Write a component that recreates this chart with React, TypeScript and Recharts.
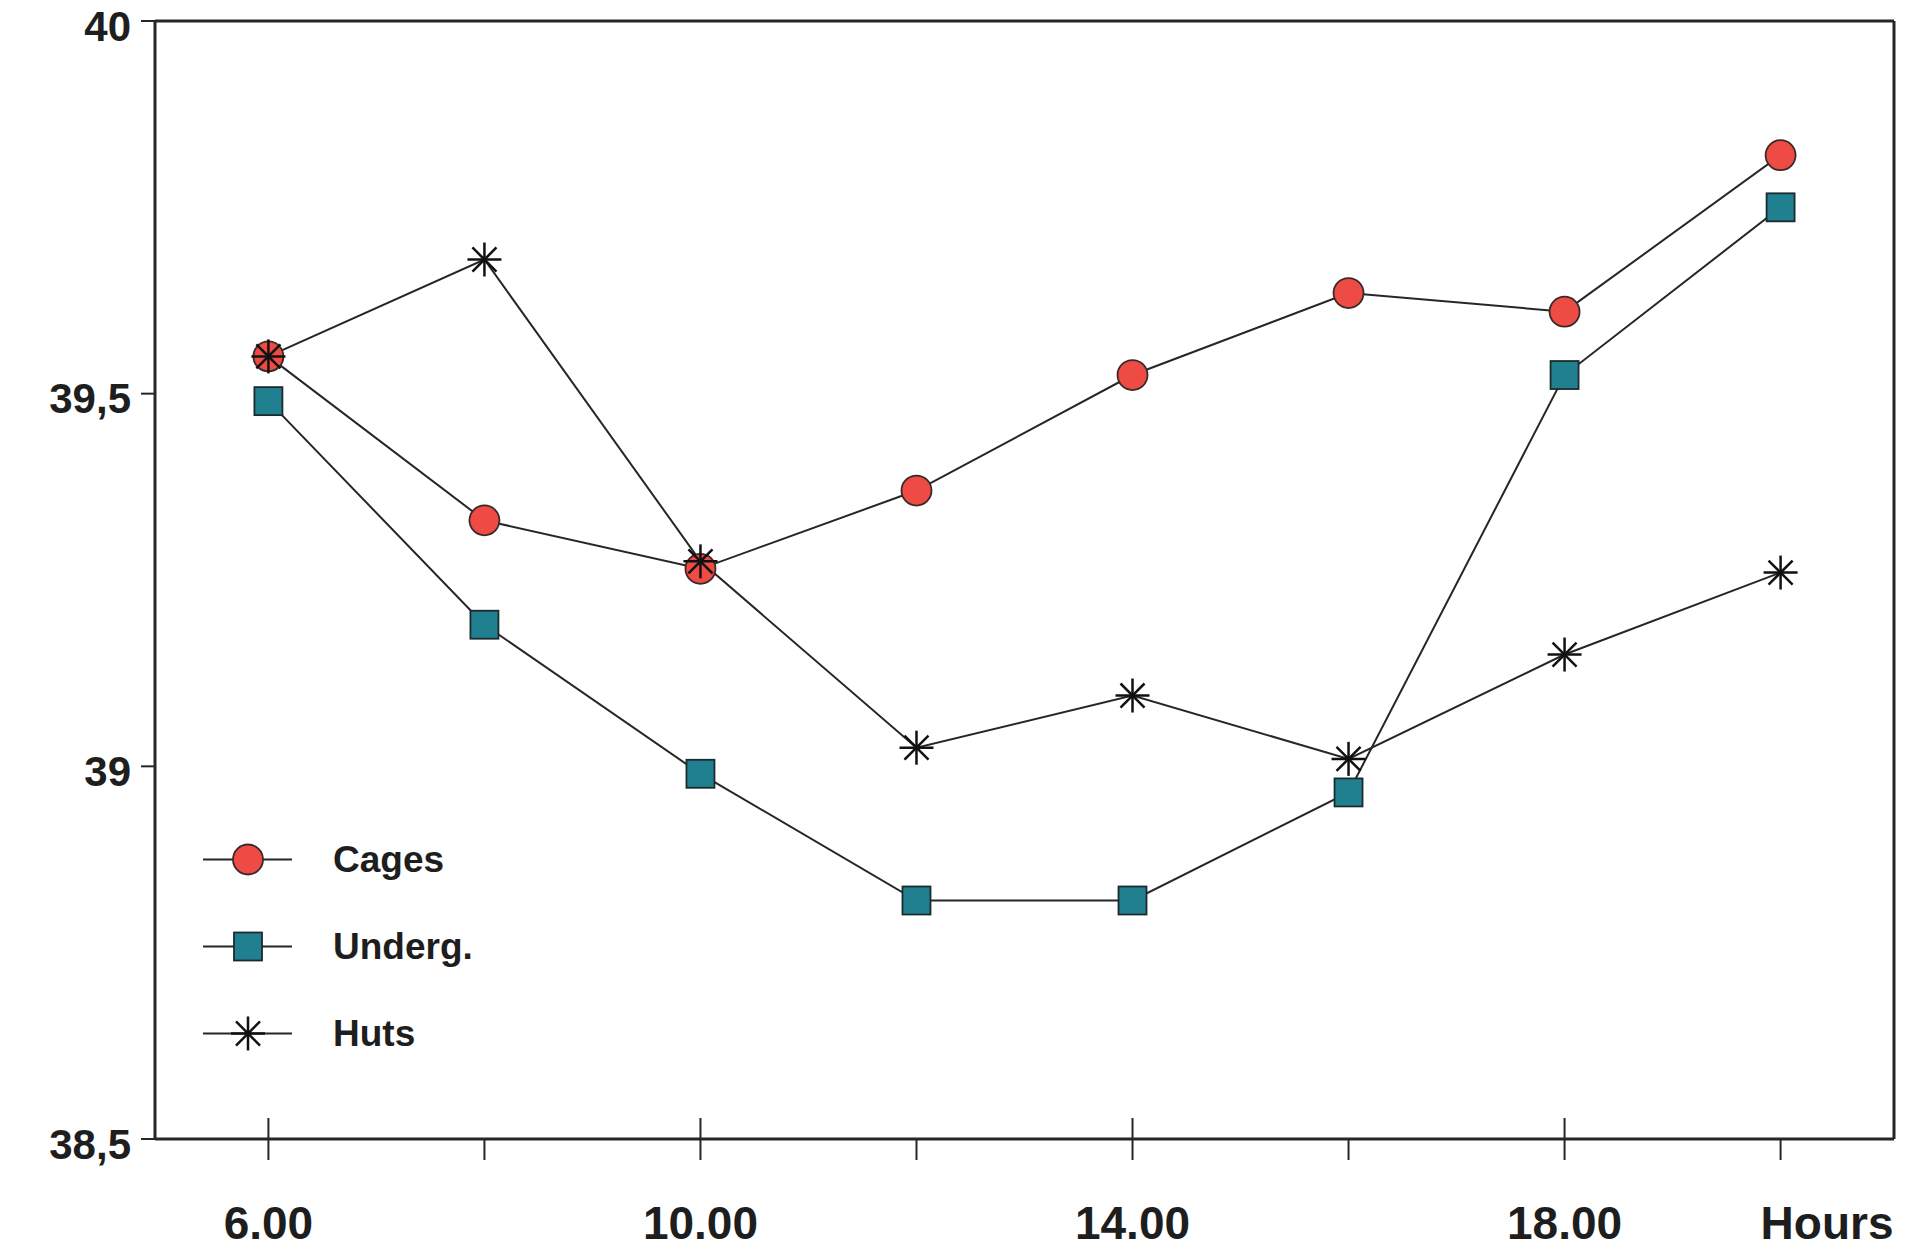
import React from "react";
import { LineChart, Line, XAxis, YAxis, ReferenceLine, Legend } from "recharts";

const hours = [6, 8, 10, 12, 14, 16, 18, 20];
const cages = [39.55, 39.33, 39.265, 39.37, 39.525, 39.635, 39.61, 39.82];
const underg = [39.49, 39.19, 38.99, 38.82, 38.82, 38.965, 39.525, 39.75];
const huts = [39.55, 39.68, 39.275, 39.025, 39.095, 39.01, 39.15, 39.26];

const xTickLabels: Record<number, string> = { 6: "6.00", 10: "10.00", 14: "14.00", 18: "18.00", 20: "Hours" };
const majorTicks = [6, 10, 14, 18];
const xDomain = [4.95, 21.05];
const yTicks = [38.5, 39, 39.5, 40];
const yTickLabels: Record<number, string> = { 38.5: "38,5", 39: "39", 39.5: "39,5", 40: "40" };

const data = hours.map((h, i) => ({ hour: h, cages: cages[i], underg: underg[i], huts: huts[i] }));

const INK = "#262626";
const RED = "#ee4b45";
const TEAL = "#20808f";
const FONT = "'Liberation Sans', Arial, sans-serif";

function CircleMark({ cx, cy, size = 15 }: any) {
  if (cx == null || cy == null) return null;
  return <circle cx={cx} cy={cy} r={size} fill={RED} stroke="#3a2a2a" strokeWidth={1.8} />;
}

function SquareMark({ cx, cy, size = 14 }: any) {
  if (cx == null || cy == null) return null;
  return <rect x={cx - size} y={cy - size} width={size * 2} height={size * 2} fill={TEAL} stroke="#1c2a2e" strokeWidth={1.8} />;
}

function StarMark({ cx, cy, size = 17 }: any) {
  if (cx == null || cy == null) return null;
  const arms = [0, 45, 90, 135].map((a) => {
    const r = (a * Math.PI) / 180;
    const dx = Math.cos(r) * size;
    const dy = Math.sin(r) * size;
    return <line key={a} x1={cx - dx} y1={cy - dy} x2={cx + dx} y2={cy + dy} stroke="#111" strokeWidth={2.5} />;
  });
  return <g>{arms}</g>;
}

function XTick({ x, y, payload }: any) {
  const v = payload.value;
  const major = majorTicks.includes(v);
  const label = xTickLabels[v];
  return (
    <g>
      <line x1={x} x2={x} y1={major ? y - 21 : y} y2={y + 21} stroke={INK} strokeWidth={2} />
      {label && (
        <text
          x={v === 20 ? x - 20 : x}
          y={y + 84}
          textAnchor={v === 20 ? "start" : "middle"}
          dominantBaseline="central"
          fontFamily={FONT}
          fontWeight="bold"
          fontSize={46}
          fill="#1e1e1e"
        >
          {label}
        </text>
      )}
    </g>
  );
}

function YTick({ x, y, payload }: any) {
  return (
    <g>
      <line x1={x - 14} x2={x} y1={y} y2={y} stroke={INK} strokeWidth={2} />
      <text x={x - 24} y={y + 5} textAnchor="end" dominantBaseline="central" fontFamily={FONT} fontWeight="bold" fontSize={42} fill="#1e1e1e">
        {yTickLabels[payload.value]}
      </text>
    </g>
  );
}

const legendItems = [
  { key: "cages", label: "Cages", Mark: CircleMark },
  { key: "underg", label: "Underg.", Mark: SquareMark },
  { key: "huts", label: "Huts", Mark: StarMark },
];

function LegendBox() {
  return (
    <div style={{ fontFamily: FONT }}>
      {legendItems.map(({ key, label, Mark }) => (
        <div key={key} style={{ display: "flex", alignItems: "center", height: 87 }}>
          <svg width={100} height={87}>
            <line x1={5} x2={94} y1={43.5} y2={43.5} stroke={INK} strokeWidth={2} />
            <Mark cx={50} cy={43.5} />
          </svg>
          <span style={{ marginLeft: 35, fontSize: 37, fontWeight: "bold", color: "#1e1e1e" }}>{label}</span>
        </div>
      ))}
    </div>
  );
}

export default function App() {
  return (
    <div style={{ width: 1910, height: 1254, background: "#fff", margin: "-8px 0 0 -8px" }}>
      <LineChart width={1910} height={1254} data={data} margin={{ top: 21, right: 16, bottom: 0, left: 0 }}>
        <XAxis
          dataKey="hour"
          type="number"
          domain={xDomain}
          allowDataOverflow
          ticks={hours}
          height={115}
          tickSize={0}
          tickMargin={0}
          tickLine={false}
          axisLine={{ stroke: INK, strokeWidth: 3 }}
          tick={<XTick />}
          interval={0}
        />
        <YAxis
          type="number"
          domain={[38.5, 40]}
          ticks={yTicks}
          width={155}
          tickSize={0}
          tickMargin={0}
          tickLine={false}
          axisLine={{ stroke: INK, strokeWidth: 3 }}
          tick={<YTick />}
          interval={0}
        />
        <ReferenceLine y={40} stroke={INK} strokeWidth={3} />
        <ReferenceLine x={xDomain[1]} stroke={INK} strokeWidth={3} />
        <Legend
          layout="vertical"
          align="center"
          verticalAlign="middle"
          content={<LegendBox />}
          wrapperStyle={{ left: 198, top: 816, width: 420 }}
        />
        <Line dataKey="cages" stroke={INK} strokeWidth={2} dot={<CircleMark />} activeDot={false} isAnimationActive={false} />
        <Line dataKey="underg" stroke={INK} strokeWidth={2} dot={<SquareMark />} activeDot={false} isAnimationActive={false} />
        <Line dataKey="huts" stroke={INK} strokeWidth={2} dot={<StarMark />} activeDot={false} isAnimationActive={false} />
      </LineChart>
    </div>
  );
}
